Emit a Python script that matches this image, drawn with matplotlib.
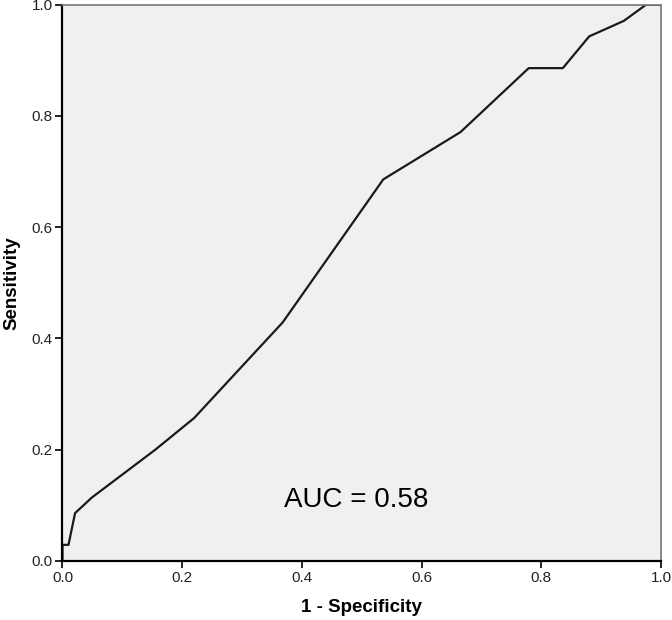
import matplotlib
matplotlib.use('Agg')
import matplotlib.pyplot as plt

plt.rcParams['font.family'] = ['Liberation Sans', 'DejaVu Sans']

# ROC curve points
fpr = [0.0, 0.0, 0.010, 0.021, 0.049, 0.155, 0.220, 0.368, 0.536, 0.665, 0.779, 0.836, 0.880, 0.938, 0.975, 1.0]
tpr = [0.0, 0.029, 0.029, 0.086, 0.114, 0.200, 0.257, 0.429, 0.686, 0.771, 0.886, 0.886, 0.943, 0.971, 1.0, 1.0]
ticks = [0.0, 0.2, 0.4, 0.6, 0.8, 1.0]
auc_label = 'AUC = 0.58'

fig = plt.figure(figsize=(6.72, 6.2), dpi=100)
ax = fig.add_axes([0.093, 0.0952, 0.8906, 0.8972])
ax.set_facecolor('#f0f0f0')

ax.plot(fpr, tpr, color='#1a1a1a', linewidth=1.6)
ax.text(0.49, 0.11, auc_label, fontsize=20, ha='center', va='center')

ax.set_xlim(0, 1)
ax.set_ylim(0, 1)
ax.set_xticks(ticks)
ax.set_yticks(ticks)
ax.set_xticklabels(['%.1f' % t for t in ticks])
ax.set_yticklabels(['%.1f' % t for t in ticks])
ax.tick_params(direction='out', length=5, width=1.2, labelsize=11, pad=2, color='black', labelcolor='#222222')

for side in ['left', 'bottom']:
	ax.spines[side].set_color('black')
	ax.spines[side].set_linewidth(1.6)
for side in ['top', 'right']:
	ax.spines[side].set_color('#777777')
	ax.spines[side].set_linewidth(1.2)

ax.set_xlabel('1 - Specificity', fontsize=13.5, fontweight='bold', labelpad=10)
ax.set_ylabel('Sensitivity', fontsize=13.5, fontweight='bold', labelpad=8)

fig.savefig('out.png', dpi=100)
